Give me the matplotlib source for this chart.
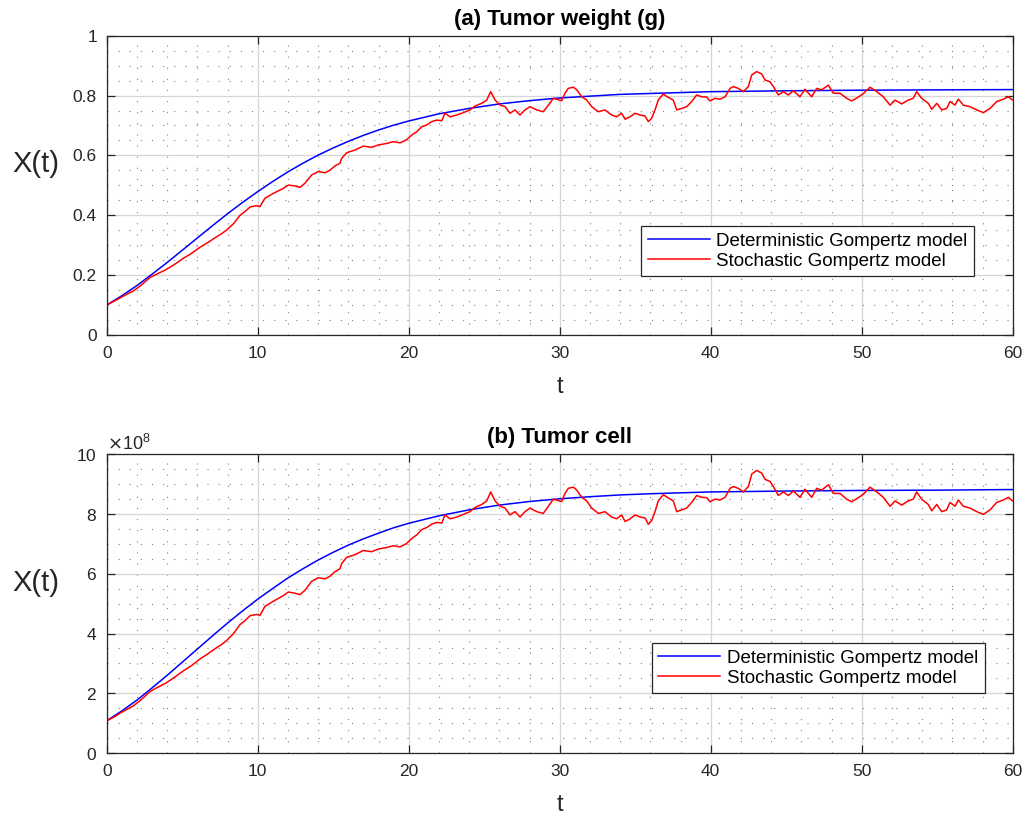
import matplotlib
matplotlib.use("Agg")
import matplotlib.pyplot as plt
import numpy as np
from matplotlib.ticker import MultipleLocator, ScalarFormatter

plt.rcParams['font.family'] = ['Liberation Sans', 'DejaVu Sans']

# ---------------- data: panel (a) tumor weight ----------------
t_det_a = [0, 1, 2, 3, 4, 5, 6, 7, 8, 9, 10, 11, 12, 13, 14, 15, 16, 17, 18, 19, 20,
           22, 24, 26, 28, 30, 32, 34, 36, 38, 40, 45, 50, 55, 60]
x_det_a = [0.100, 0.131, 0.165, 0.203, 0.242, 0.283, 0.324, 0.365, 0.405, 0.443, 0.479,
           0.513, 0.545, 0.574, 0.601, 0.625, 0.647, 0.667, 0.685, 0.701, 0.715,
           0.739, 0.757, 0.772, 0.783, 0.792, 0.798, 0.804, 0.807, 0.810, 0.813,
           0.816, 0.818, 0.819, 0.820]

t_sto = [0.0, 0.5, 1.0, 1.4, 1.76, 2.2, 2.5, 2.87, 3.3, 3.95, 4.5, 5.07, 5.6, 6.18, 6.7,
         7.28, 7.6, 7.95, 8.4, 8.83, 9.2, 9.5, 9.93, 10.15, 10.48, 11.03, 11.7, 12.03,
         12.47, 12.8, 13.13, 13.58, 14.01, 14.46, 14.79, 15.12, 15.45, 15.56, 15.89,
         16.44, 16.99, 17.55, 17.99, 18.54, 18.98, 19.42, 19.85, 20.2, 20.53, 20.86,
         21.2, 21.52, 21.85, 22.19, 22.4, 22.74, 23.18, 23.62, 24.06, 24.39, 24.83,
         25.17, 25.43, 25.72, 26.05, 26.38, 26.71, 27.04, 27.37, 27.7, 28.03, 28.48,
         28.91, 29.25, 29.58, 29.97, 30.13, 30.35, 30.57, 30.9, 31.13, 31.46, 31.79,
         32.12, 32.56, 33.0, 33.44, 33.77, 34.1, 34.33, 34.66, 34.99, 35.32, 35.65,
         35.87, 36.09, 36.31, 36.53, 36.86, 37.19, 37.52, 37.75, 38.08, 38.41, 38.74,
         39.07, 39.4, 39.74, 39.95, 40.29, 40.62, 40.95, 41.28, 41.5, 41.83, 42.16,
         42.49, 42.72, 43.05, 43.38, 43.6, 43.93, 44.15, 44.48, 44.81, 45.14, 45.47,
         45.91, 46.24, 46.69, 47.02, 47.35, 47.79, 48.12, 48.56, 49.0, 49.34, 49.78,
         50.1, 50.55, 51.0, 51.43, 51.88, 52.21, 52.65, 53.09, 53.42, 53.64, 53.97,
         54.41, 54.64, 54.97, 55.3, 55.63, 55.85, 56.18, 56.4, 56.73, 57.17, 57.62,
         58.06, 58.5, 58.94, 59.38, 59.71, 60.0]
x_sto_a = [0.100, 0.113, 0.127, 0.138, 0.147, 0.163, 0.176, 0.192, 0.203, 0.219, 0.236,
           0.256, 0.272, 0.293, 0.309, 0.328, 0.338, 0.351, 0.372, 0.400, 0.414, 0.428,
           0.432, 0.429, 0.457, 0.473, 0.490, 0.501, 0.498, 0.493, 0.507, 0.535, 0.546,
           0.542, 0.551, 0.565, 0.574, 0.590, 0.609, 0.618, 0.631, 0.627, 0.635, 0.640,
           0.646, 0.642, 0.652, 0.668, 0.679, 0.696, 0.702, 0.713, 0.718, 0.716, 0.741,
           0.729, 0.735, 0.743, 0.752, 0.765, 0.774, 0.785, 0.813, 0.785, 0.768, 0.763,
           0.741, 0.752, 0.735, 0.752, 0.763, 0.752, 0.746, 0.768, 0.791, 0.785, 0.783,
           0.808, 0.824, 0.828, 0.819, 0.796, 0.785, 0.763, 0.746, 0.752, 0.735, 0.729,
           0.741, 0.721, 0.729, 0.741, 0.735, 0.732, 0.713, 0.724, 0.752, 0.785, 0.805,
           0.794, 0.785, 0.752, 0.757, 0.763, 0.780, 0.802, 0.796, 0.795, 0.782, 0.791,
           0.788, 0.796, 0.824, 0.830, 0.824, 0.813, 0.830, 0.869, 0.880, 0.872, 0.852,
           0.846, 0.830, 0.802, 0.813, 0.802, 0.816, 0.796, 0.821, 0.796, 0.824, 0.819,
           0.835, 0.808, 0.808, 0.791, 0.782, 0.795, 0.806, 0.828, 0.813, 0.796, 0.768,
           0.785, 0.772, 0.785, 0.791, 0.813, 0.791, 0.774, 0.754, 0.774, 0.752, 0.757,
           0.780, 0.768, 0.788, 0.768, 0.763, 0.752, 0.743, 0.757, 0.780, 0.788, 0.796,
           0.785]

# ---------------- data: panel (b) tumor cell (values in units of 1e8) ----------------
unit_b = 1e8
t_det_b = t_det_a
x_det_b = [1.08, 1.41, 1.77, 2.18, 2.60, 3.04, 3.48, 3.92, 4.35, 4.76, 5.15, 5.51, 5.86,
           6.17, 6.46, 6.72, 6.96, 7.17, 7.36, 7.54, 7.69, 7.94, 8.14, 8.30, 8.42, 8.51,
           8.58, 8.64, 8.68, 8.71, 8.74, 8.77, 8.79, 8.80, 8.82]
x_sto_b = [1.08, 1.21, 1.37, 1.48, 1.58, 1.75, 1.89, 2.06, 2.18, 2.35, 2.54, 2.75, 2.92,
           3.15, 3.32, 3.53, 3.63, 3.77, 4.00, 4.30, 4.45, 4.60, 4.64, 4.61, 4.91, 5.08,
           5.27, 5.39, 5.35, 5.30, 5.45, 5.75, 5.87, 5.83, 5.92, 6.07, 6.17, 6.34, 6.55,
           6.64, 6.78, 6.74, 6.83, 6.88, 6.94, 6.90, 7.01, 7.18, 7.30, 7.48, 7.55, 7.66,
           7.72, 7.70, 7.97, 7.84, 7.90, 7.99, 8.08, 8.22, 8.32, 8.44, 8.74, 8.44, 8.26,
           8.20, 7.97, 8.08, 7.90, 8.08, 8.20, 8.08, 8.02, 8.26, 8.50, 8.44, 8.42, 8.69,
           8.86, 8.90, 8.80, 8.56, 8.44, 8.20, 8.02, 8.08, 7.90, 7.84, 7.97, 7.75, 7.84,
           7.97, 7.90, 7.87, 7.66, 7.78, 8.08, 8.44, 8.65, 8.54, 8.44, 8.08, 8.14, 8.20,
           8.39, 8.62, 8.56, 8.55, 8.41, 8.50, 8.47, 8.56, 8.86, 8.92, 8.86, 8.74, 8.92,
           9.34, 9.46, 9.37, 9.16, 9.09, 8.92, 8.62, 8.74, 8.62, 8.77, 8.56, 8.83, 8.56,
           8.86, 8.80, 8.98, 8.69, 8.69, 8.50, 8.41, 8.55, 8.66, 8.90, 8.74, 8.56, 8.26,
           8.44, 8.30, 8.44, 8.50, 8.74, 8.50, 8.32, 8.11, 8.32, 8.08, 8.14, 8.39, 8.26,
           8.47, 8.26, 8.20, 8.08, 7.99, 8.14, 8.39, 8.47, 8.56, 8.44]

labels = ['Deterministic Gompertz model', 'Stochastic Gompertz model']
titles = ['(a) Tumor weight (g)', '(b) Tumor cell']

# ---------------- figure ----------------
fig = plt.figure(figsize=(10.32, 8.23), dpi=100)
ax_a = fig.add_axes([0.1034, 0.5930, 0.8779, 0.3636])
ax_b = fig.add_axes([0.1034, 0.0850, 0.8779, 0.3630])

text_col = '#262626'

def style(ax, ylim, ymaj, ymin):
    ax.set_xlim(0, 60)
    ax.set_ylim(*ylim)
    ax.xaxis.set_major_locator(MultipleLocator(10))
    ax.xaxis.set_minor_locator(MultipleLocator(2))
    ax.yaxis.set_major_locator(MultipleLocator(ymaj))
    ax.yaxis.set_minor_locator(MultipleLocator(ymin))
    ax.grid(True, which='major', color='#d6d6d6', linewidth=0.9, linestyle='-')
    ax.grid(True, which='minor', color='#808080', linewidth=0.8, linestyle=(0, (1, 9)))
    ax.set_axisbelow(True)
    ax.tick_params(which='major', direction='in', length=6, width=0.9,
                   top=True, right=True, labelsize=12.5, colors=text_col)
    ax.tick_params(axis='x', which='major', pad=8)
    ax.tick_params(axis='y', which='major', pad=7)
    ax.tick_params(which='minor', length=0, top=True, right=True)
    for s in ax.spines.values():
        s.set_color(text_col)
        s.set_linewidth(0.9)
    ax.set_xlabel('t', fontsize=17, color=text_col, va='center')
    ax.xaxis.set_label_coords(0.5, -0.175)
    ax.set_ylabel('X(t)', fontsize=21, color=text_col, rotation=0,
                  va='center', ha='center')
    ax.yaxis.set_label_coords(-0.078, 0.57)

leg_kw = dict(loc='upper right', fontsize=13.5, frameon=True, fancybox=False,
              edgecolor=text_col, framealpha=1, handlelength=3.3,
              handletextpad=0.35, borderpad=0.35, labelspacing=0.15,
              borderaxespad=0)

ax_a.plot(t_det_a, x_det_a, color='#0000ff', linewidth=1.1, label=labels[0])
ax_a.plot(t_sto, x_sto_a, color='#ff0000', linewidth=1.1, label=labels[1])
style(ax_a, (0, 1), 0.2, 0.05)
ax_a.yaxis.set_major_formatter(plt.FuncFormatter(lambda v, p: ('%g' % round(v, 2))))
ax_a.set_title(titles[0], fontsize=16, fontweight='bold', color='black', pad=8)
leg = ax_a.legend(bbox_to_anchor=(0.9575, 0.364), **leg_kw)
leg.get_frame().set_linewidth(0.9)

ax_b.plot(t_det_b, np.array(x_det_b) * unit_b, color='#0000ff', linewidth=1.1,
          label=labels[0])
ax_b.plot(t_sto, np.array(x_sto_b) * unit_b, color='#ff0000', linewidth=1.1,
          label=labels[1])
style(ax_b, (0, 10 * unit_b), 2 * unit_b, 0.5 * unit_b)
fmt = ScalarFormatter(useMathText=True)
fmt.set_powerlimits((8, 8))
ax_b.yaxis.set_major_formatter(fmt)
ax_b.yaxis.get_offset_text().set_fontsize(13)
ax_b.yaxis.get_offset_text().set_color(text_col)
ax_b.set_title(titles[1], fontsize=16, fontweight='bold', color='black', pad=8)
leg = ax_b.legend(bbox_to_anchor=(0.969, 0.368), **leg_kw)
leg.get_frame().set_linewidth(0.9)

fig.savefig('out.png', dpi=100)
